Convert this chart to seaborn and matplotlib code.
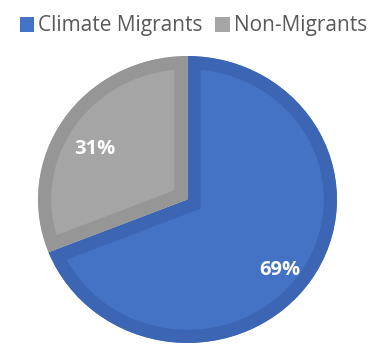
import matplotlib
matplotlib.use("Agg")
import matplotlib.pyplot as plt
import seaborn as sns
from matplotlib.patches import Patch
from matplotlib.transforms import TransformedPatchPath

categories = ["Climate Migrants", "Non-Migrants"]
values = [69, 31]
fill_colors = ["#4472C4", "#A5A5A5"]
edge_colors = ["#3C66B4", "#969696"]

sns.set_theme(style="white")
plt.rcParams["font.family"] = ["Open Sans", "DejaVu Sans"]

W, H = 378, 352
fig = plt.figure(figsize=(W / 100, H / 100), dpi=100)
ax = fig.add_axes([38 / W, (H - 343) / H, 299 / W, 287 / H])

wedges, texts, autotexts = ax.pie(
    values,
    colors=fill_colors,
    startangle=90,
    counterclock=False,
    autopct=lambda p: f"{p:.0f}%",
    pctdistance=0.75,
    wedgeprops=dict(linewidth=19, edgecolor="none"),
    textprops=dict(color="white", fontsize=14.5, fontweight="bold"),
)
for t in autotexts:
    t.set_va("top")

ax.set_xlim(-1, 1)
ax.set_ylim(-1, 1)
ax.set_aspect("auto")
ax.set_position([38 / W, (H - 343) / H, 299 / W, 287 / H])
ax.axis("off")

for w, ec in zip(wedges, edge_colors):
    w.set_edgecolor(ec)
    w.set_clip_on(True)
    w.set_clip_path(TransformedPatchPath(w))

handles = [Patch(facecolor=c, edgecolor="none") for c in fill_colors]
leg = fig.legend(
    handles,
    categories,
    loc="center",
    bbox_to_anchor=(193.5 / W, 1 - 26 / H),
    ncol=2,
    frameon=False,
    fontsize=15,
    handlelength=0.7,
    handleheight=0.7,
    handletextpad=0.2,
    columnspacing=0.6,
    borderpad=0,
)
for t in leg.get_texts():
    t.set_color("#595959")

fig.savefig("out.png", dpi=100)
